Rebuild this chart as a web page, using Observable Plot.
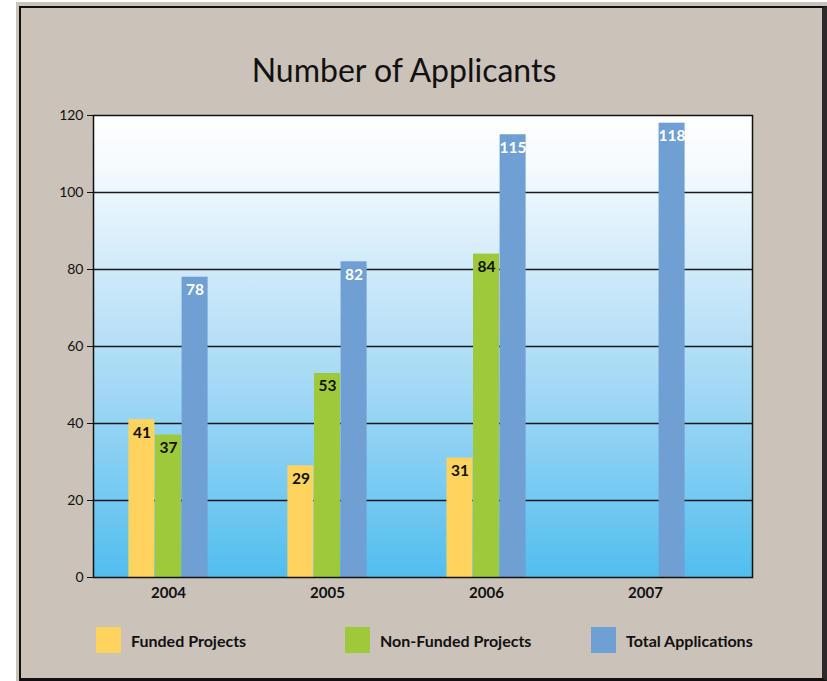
<!DOCTYPE html>
<html>
<head>
<meta charset="utf-8">
<script src="https://cdn.jsdelivr.net/npm/d3@7"></script>
<script src="https://cdn.jsdelivr.net/npm/@observablehq/plot@0.6"></script>
<style>
  html, body { margin: 0; padding: 0; background: #ffffff; }
  #page { position: relative; width: 827px; height: 681px; overflow: hidden; font-family: Lato, "Open Sans", sans-serif; }
  #box { position: absolute; left: 16px; top: 2px; width: 811px; height: 679px; background: #cbc2b9; }
  #border { position: absolute; left: 19px; top: 6px; width: 801px; height: 670px; border: 2px solid #111; border-right: 5px solid #2a2a2a; border-bottom: 3px solid #111; }
  #title { position: absolute; left: 0; top: 50px; width: 808px; text-align: center; font-size: 32px; color: #111; }
  #chart { position: absolute; left: 0; top: 100px; }
  #legend { position: absolute; top: 627px; left: 0; width: 827px; height: 27px; }
  .item { position: absolute; top: 0; display: flex; align-items: center; font-size: 16px; font-weight: bold; color: #111; }
  .sw { width: 25px; height: 26px; margin-right: 10px; }
</style>
</head>
<body>
<div id="page">
  <div id="box"></div>
  <div id="border"></div>
  <div id="title">Number of Applicants</div>
  <div id="chart"></div>
  <div id="legend"></div>
</div>
<script>
const years = ["2004", "2005", "2006", "2007"];
const funded = [41, 29, 31, null];
const nonFunded = [37, 53, 84, null];
const total = [78, 82, 115, 118];
const seriesNames = ["Funded Projects", "Non-Funded Projects", "Total Applications"];
const seriesColors = ["#ffd45e", "#9ec93a", "#6f9fd3"];
const labelColors = ["#111111", "#111111", "#ffffff"];
const yTicks = [0, 20, 40, 60, 80, 100, 120];
const gridValues = [20, 40, 60, 80, 100];

const seriesValues = [funded, nonFunded, total];
const offsets = [-26.6, 0, 26.6];

function rows(vals) {
  return years.map((y, i) => ({year: y, value: vals[i]})).filter(d => d.value != null);
}

const gradient = () => {
  const defs = d3.create("svg:defs");
  const g = defs.append("linearGradient").attr("id", "bgGrad").attr("x1", 0).attr("y1", 0).attr("x2", 0).attr("y2", 1);
  g.append("stop").attr("offset", "0%").attr("stop-color", "#ffffff");
  g.append("stop").attr("offset", "10%").attr("stop-color", "#f6fbfe");
  g.append("stop").attr("offset", "45%").attr("stop-color", "#bce2f7");
  g.append("stop").attr("offset", "75%").attr("stop-color", "#84cef3");
  g.append("stop").attr("offset", "100%").attr("stop-color", "#50beee");
  return defs.node();
};

const marks = [
  gradient,
  Plot.frame({fill: "url(#bgGrad)", stroke: null}),
  Plot.ruleY(gridValues, {stroke: "#1a1a1a", strokeWidth: 1.3})
];

seriesValues.forEach((vals, k) => {
  marks.push(Plot.barY(rows(vals), {x: "year", y: "value", fill: seriesColors[k], dx: offsets[k], insetLeft: 0, insetRight: 0}));
  marks.push(Plot.text(rows(vals), {x: "year", y: "value", text: d => String(d.value), dx: offsets[k], dy: 13, fill: labelColors[k], fontWeight: "bold", fontSize: 15.5, fontFamily: "Lato, 'Open Sans', sans-serif"}));
});

marks.push(Plot.frame({stroke: "#111", strokeWidth: 1.5}));
marks.push(Plot.axisY({ticks: yTicks, tickSize: 6, tickPadding: 4, fontSize: 14, label: null, stroke: "#111"}));
marks.push(Plot.axisX({tickSize: 0, tickPadding: 10, fontSize: 15, fontWeight: "bold", label: null}));

const chart = Plot.plot({
  width: 827,
  height: 510,
  marginLeft: 93,
  marginRight: 75,
  marginTop: 15,
  marginBottom: 33,
  style: {background: "transparent", fontFamily: "Lato, 'Open Sans', sans-serif", color: "#111", overflow: "visible"},
  x: {domain: years, range: [87, 726.2], paddingInner: 0.8335, paddingOuter: 0.41675, align: 0.5, axis: null},
  y: {domain: [0, 120], axis: null},
  marks
});
document.getElementById("chart").appendChild(chart);

const legend = document.getElementById("legend");
const legendX = [96, 345, 591];
seriesNames.forEach((name, k) => {
  const item = document.createElement("div");
  item.className = "item";
  item.style.left = legendX[k] + "px";
  const sw = document.createElement("div");
  sw.className = "sw";
  sw.style.background = seriesColors[k];
  const t = document.createElement("span");
  t.textContent = name;
  item.appendChild(sw);
  item.appendChild(t);
  legend.appendChild(item);
});
</script>
</body>
</html>
